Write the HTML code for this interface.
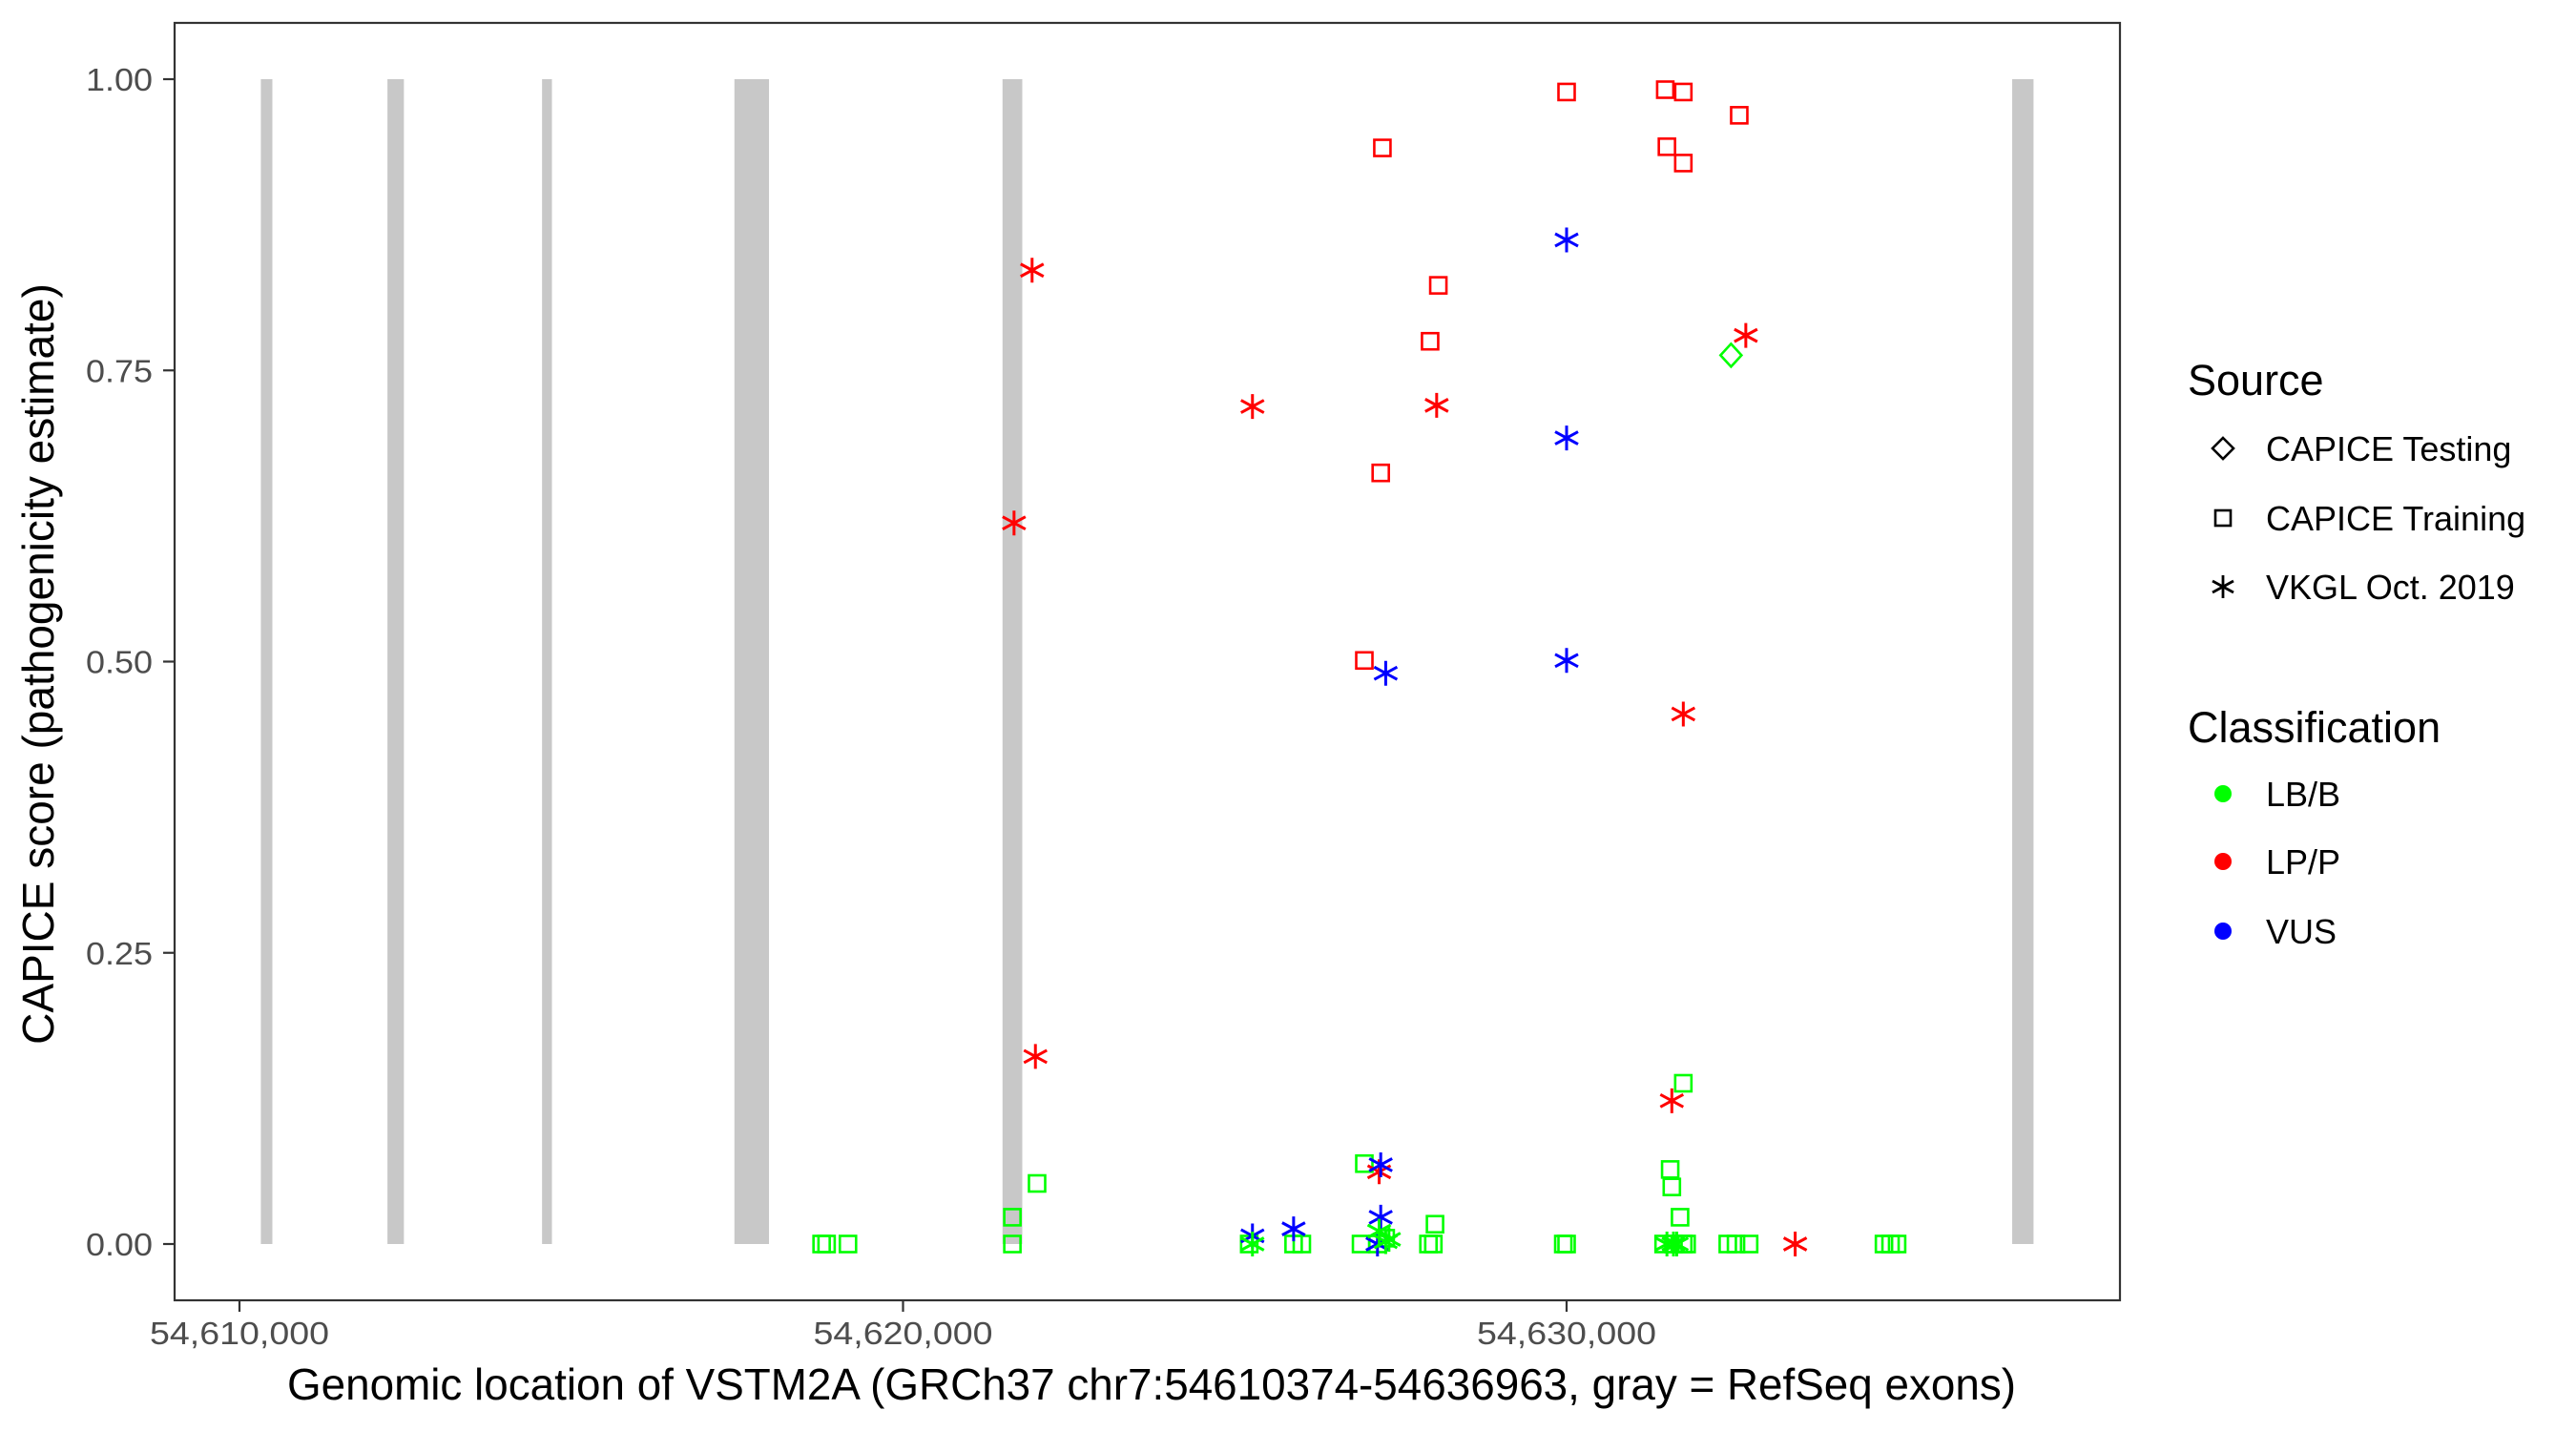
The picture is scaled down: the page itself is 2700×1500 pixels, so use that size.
<!DOCTYPE html>
<html><head><meta charset="utf-8"><style>
html,body{margin:0;padding:0;background:#fff;}
svg{display:block;font-family:"Liberation Sans",Arial,sans-serif;}
</style></head><body>
<svg id="chart" width="2700" height="1500" viewBox="0 0 2700 1500">
<rect x="0" y="0" width="2700" height="1500" fill="#fff"/>
<g id="exons"></g>
<g id="points"></g>
<rect x="183" y="24" width="2039" height="1339" fill="none" stroke="#333" stroke-width="2.2"/>
<g id="xaxis"></g>
<g id="yaxis"></g>
<text x="1207" y="1467" font-size="46" text-anchor="middle" fill="#000" textLength="1812" lengthAdjust="spacingAndGlyphs">Genomic location of VSTM2A (GRCh37 chr7:54610374-54636963, gray = RefSeq exons)</text>
<text transform="translate(56,696) rotate(-90)" font-size="46" text-anchor="middle" fill="#000">CAPICE score (pathogenicity estimate)</text>
<g>
<text x="2293" y="414" font-size="45" fill="#000">Source</text>
<path d="M2330 459 L2341 470 L2330 481 L2319 470 Z" fill="none" stroke="#000" stroke-width="2.6"/>
<text x="2375" y="483" font-size="36" fill="#000">CAPICE Testing</text>
<rect x="2322" y="535" width="16" height="16" fill="none" stroke="#000" stroke-width="2.6"/>
<text x="2375" y="556" font-size="36" fill="#000">CAPICE Training</text>
<g stroke="#000" stroke-width="2.8">
<line x1="2330" y1="603" x2="2330" y2="627"/><line x1="2319" y1="609" x2="2341" y2="621"/><line x1="2319" y1="621" x2="2341" y2="609"/></g>
<text x="2375" y="628" font-size="36" fill="#000">VKGL Oct. 2019</text>
<text x="2293" y="778" font-size="45" fill="#000">Classification</text>
<circle cx="2330" cy="832" r="9" fill="#00ff00"/>
<text x="2375" y="845" font-size="36" fill="#000">LB/B</text>
<circle cx="2330" cy="903" r="9" fill="#ff0000"/>
<text x="2375" y="916" font-size="36" fill="#000">LP/P</text>
<circle cx="2330" cy="976" r="9" fill="#0000ff"/>
<text x="2375" y="989" font-size="36" fill="#000">VUS</text>
</g>
</svg>
<script>
const xTicks = [54610000, 54620000, 54630000];
const xTickLabels = ["54,610,000", "54,620,000", "54,630,000"];
const yTicks = [0, 0.25, 0.5, 0.75, 1];
const yTickLabels = ["0.00", "0.25", "0.50", "0.75", "1.00"];
const exonStarts = [54610322, 54612230, 54614560, 54617459, 54621499, 54636715];
const exonEnds   = [54610496, 54612478, 54614709, 54617980, 54621797, 54637037];
// points: position (bp), score, source, classification
const positions = [
 54618773,54618848,54619170,54621648,54621648,54622020,54626952,54626902,54627150,54627274,54628017,54627918,54627992,54625886,54626010,54625217,54629950,54630000,54631759,54631561,54631586,54631710,54631462,54631611,54631759,54631809,54632429,54632553,54632751,54634783,54634882,54634981,
 54630000,54631487,54631759,54632602,54627224,54631512,54631759,54628067,54627943,54627199,54626952,
 54632478,
 54621945,54625266,54628042,54621673,54632701,54631759,54621995,54631586,54627175,54633445,
 54630000,54630000,54627274,54630000,54627199,54627199,54625886,54625266,54627150,
 54625266,54631512,54631611,54631660,54627274,54627175,54627323
];
const scores = [
 0,0,0,0,0.023,0.052,0.069,0,0,0.005,0.017,0,0,0,0,0,0,0,0.138,0.064,0.049,0.023,0,0,0,0,0,0,0,0,0,0,
 0.989,0.991,0.989,0.969,0.941,0.942,0.928,0.823,0.775,0.662,0.501,
 0.763,
 0.836,0.719,0.720,0.619,0.780,0.455,0.161,0.123,0.062,0,
 0.862,0.692,0.490,0.501,0.068,0.023,0.013,0.007,0,
 0,0,0,0,0.002,0.011,0.004
];
const sources = [
 "train","train","train","train","train","train","train","train","train","train","train","train","train","train","train","train","train","train","train","train","train","train","train","train","train","train","train","train","train","train","train","train",
 "train","train","train","train","train","train","train","train","train","train","train",
 "test",
 "vkgl","vkgl","vkgl","vkgl","vkgl","vkgl","vkgl","vkgl","vkgl","vkgl",
 "vkgl","vkgl","vkgl","vkgl","vkgl","vkgl","vkgl","vkgl","vkgl",
 "vkgl","vkgl","vkgl","vkgl","vkgl","vkgl","vkgl"
];
const classes = [
 "LB","LB","LB","LB","LB","LB","LB","LB","LB","LB","LB","LB","LB","LB","LB","LB","LB","LB","LB","LB","LB","LB","LB","LB","LB","LB","LB","LB","LB","LB","LB","LB",
 "LP","LP","LP","LP","LP","LP","LP","LP","LP","LP","LP",
 "LB",
 "LP","LP","LP","LP","LP","LP","LP","LP","LP","LP",
 "VUS","VUS","VUS","VUS","VUS","VUS","VUS","VUS","VUS",
 "LB","LB","LB","LB","LB","LB","LB"
];
const NS = "http://www.w3.org/2000/svg";
const colorMap = {LB:"#00ff00", LP:"#ff0000", VUS:"#0000ff"};
function xScale(bp){ return 251 + (bp - 54610000) * (1391 / 20000); }
function yScale(v){ return 1304 - v * (1304 - 83); }
function mk(tag, attrs){ const e = document.createElementNS(NS, tag); for (const k in attrs) e.setAttribute(k, attrs[k]); return e; }

const exG = document.getElementById('exons');
exonStarts.forEach((s, i) => {
  const x1 = xScale(s), x2 = xScale(exonEnds[i]);
  const r = mk('rect', {x: x1, y: yScale(1), width: Math.max(x2 - x1, 1), height: yScale(0) - yScale(1), fill: '#c8c8c8'});
  
  
  exG.appendChild(r);
});

const ptG = document.getElementById('points');
const order = positions.map((p, i) => i);
order.sort((a, b) => {
  const rank = {train:0, test:1, vkgl:2};
  return rank[sources[a]] - rank[sources[b]];
});
order.forEach(i => {
  const cx = xScale(positions[i]), cy = yScale(scores[i]);
  const c = colorMap[classes[i]];
  let el;
  if (sources[i] === 'train') {
    el = mk('rect', {x: cx - 8.5, y: cy - 8.5, width: 17, height: 17, fill: 'none', stroke: c, 'stroke-width': 2.6});
  } else if (sources[i] === 'test') {
    el = mk('path', {d: `M${cx} ${cy-12} L${cx+11} ${cy} L${cx} ${cy+12} L${cx-11} ${cy} Z`, fill: 'none', stroke: c, 'stroke-width': 2.6});
  } else {
    el = mk('path', {d: `M${cx} ${cy-13} L${cx} ${cy+13} M${cx-12} ${cy-6.5} L${cx+12} ${cy+6.5} M${cx-12} ${cy+6.5} L${cx+12} ${cy-6.5}`, fill: 'none', stroke: c, 'stroke-width': 3});
  }
  
  
  ptG.appendChild(el);
});

const xa = document.getElementById('xaxis');
xTicks.forEach((t, i) => {
  const x = xScale(t);
  const l = mk('line', {x1: x, y1: 1363, x2: x, y2: 1375, stroke: '#333', 'stroke-width': 2.2});
  
  
  xa.appendChild(l);
  const tx = mk('text', {x: x, y: 1409, 'font-size': 33, 'text-anchor': 'middle', fill: '#4d4d4d', textLength: 188, lengthAdjust: 'spacingAndGlyphs'});
  tx.textContent = xTickLabels[i];
  
  
  xa.appendChild(tx);
});
const ya = document.getElementById('yaxis');
yTicks.forEach((t, i) => {
  const y = yScale(t);
  const l = mk('line', {x1: 171, y1: y, x2: 183, y2: y, stroke: '#333', 'stroke-width': 2.2});
  
  
  ya.appendChild(l);
  const tx = mk('text', {x: 160, y: y + 12, 'font-size': 33, 'text-anchor': 'end', fill: '#4d4d4d', textLength: 70, lengthAdjust: 'spacingAndGlyphs'});
  tx.textContent = yTickLabels[i];
  
  
  ya.appendChild(tx);
});
</script>
</body></html>
